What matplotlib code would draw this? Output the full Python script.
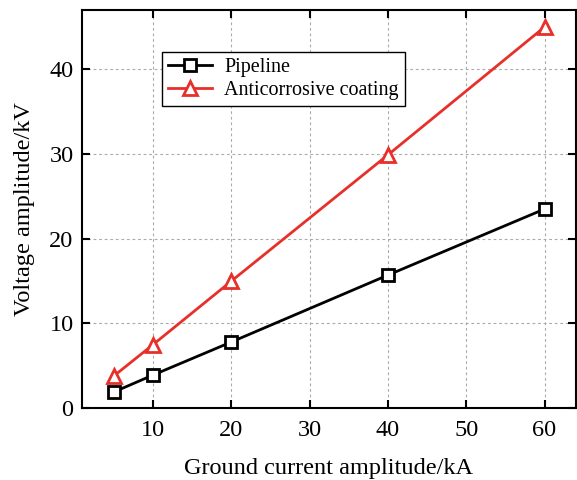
import matplotlib.pyplot as plt

plt.rcParams['font.family'] = ['Liberation Serif', 'DejaVu Serif']
plt.rcParams['mathtext.fontset'] = 'stix'

# Data
current = [5, 10, 20, 40, 60]
pipeline = [1.9, 3.9, 7.8, 15.7, 23.5]
coating = [3.8, 7.5, 15.0, 29.9, 45.0]

fig = plt.figure(figsize=(5.77, 4.8), dpi=100)
ax = fig.add_axes([0.142, 0.15, 0.856, 0.829])

ax.plot(current, pipeline, color='black', lw=2, marker='s', ms=8,
        mfc='white', mew=2, label='Pipeline')
ax.plot(current, coating, color='#e8302a', lw=2, marker='^', ms=10,
        mfc='white', mew=2, label='Anticorrosive coating')

ax.set_xlim(0.9, 64)
ax.set_ylim(0, 47)
ax.set_xticks([10, 20, 30, 40, 50, 60])
ax.set_yticks([0, 10, 20, 30, 40])
ax.grid(True, ls=(0, (2.5, 2.5)), color='#aaaaaa', lw=0.8)
ax.tick_params(direction='in', top=True, right=True, labelsize=17.5,
               length=6, width=1.5, pad=6)
ax.tick_params(axis='x', pad=9)
for s in ax.spines.values():
    s.set_linewidth(1.5)

ax.set_xlabel('Ground current amplitude/kA', fontsize=17.5, labelpad=12)
ax.set_ylabel('Voltage amplitude/kV', fontsize=17.5, labelpad=10)

leg = ax.legend(loc='upper left', bbox_to_anchor=(0.162, 0.895), fontsize=14.5,
                fancybox=False, edgecolor='black', framealpha=1,
                borderpad=0.3, handlelength=2.2, labelspacing=0.2,
                handletextpad=0.6, borderaxespad=0)
leg.get_frame().set_linewidth(1)

fig.savefig('out.png', dpi=100)
